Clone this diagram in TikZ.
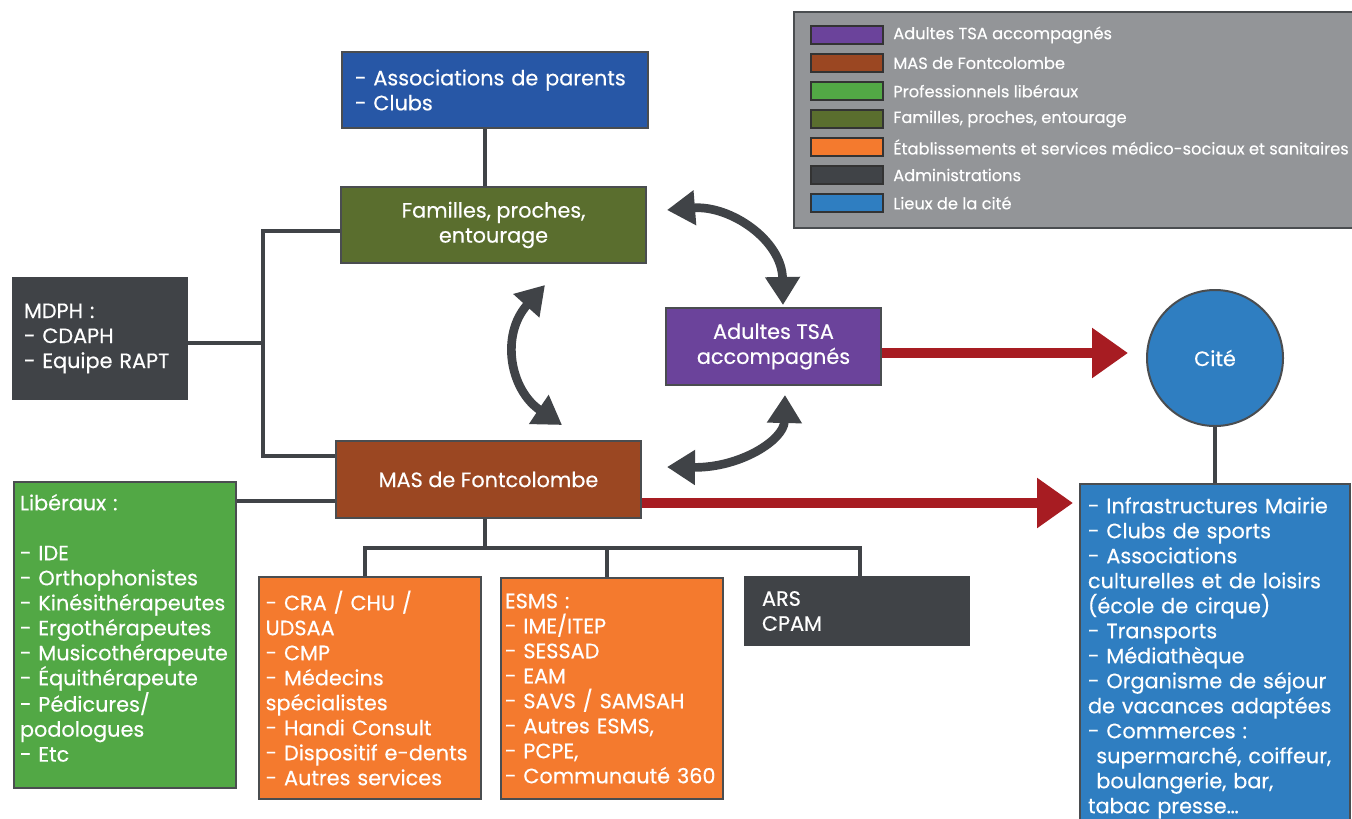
\documentclass[tikz,border=0pt]{standalone}
\usepackage{fontspec}
\setmainfont{Poppins}[FakeBold=0.4]
\usetikzlibrary{arrows.meta}
\definecolor{assocblue}{RGB}{39,87,166}
\definecolor{famolive}{RGB}{90,110,46}
\definecolor{admingray}{RGB}{64,67,71}
\definecolor{masbrown}{RGB}{155,71,34}
\definecolor{tsapurple}{RGB}{107,67,155}
\definecolor{libgreen}{RGB}{82,168,69}
\definecolor{esmsorange}{RGB}{244,122,46}
\definecolor{citeblue}{RGB}{47,126,193}
\definecolor{flowred}{RGB}{167,28,34}
\definecolor{legendgray}{RGB}{147,149,152}
\definecolor{edgegray}{RGB}{74,77,80}

\begin{document}
\begin{tikzpicture}[x=0.75pt,y=-0.75pt,
    box/.style={draw=edgegray,line width=1.5pt,text=white,inner ysep=0pt,
        font=\fontsize{15.6}{18.75}\selectfont},
    link/.style={draw=admingray,line width=3pt},
    flow/.style={draw=flowred,line width=7.5pt,-{Triangle[width=36pt,length=27pt]}},
    swap/.style={draw=admingray,line width=6.5pt,
        {Triangle[width=25pt,length=21pt]}-{Triangle[width=25pt,length=21pt]}},
    swatch/.style={draw=black!80,line width=1.5pt,minimum width=54pt,minimum height=13.5pt,inner sep=0pt},
    keytext/.style={anchor=west,text=white,inner sep=0pt,font=\fontsize{12.2}{14}\selectfont},
    ]
\useasboundingbox (0,0) rectangle (1352,818);

% legend
\node[draw=edgegray,line width=1.5pt,fill=legendgray,minimum width=429pt,minimum height=162pt] (legend) at (1080,120) {};
\node[swatch,fill=tsapurple] (keytsa) at (846.5,35) {};
\node[keytext] at (893,35) {Adultes TSA accompagnés};
\node[swatch,fill=masbrown] (keymas) at (846.5,63) {};
\node[keytext] at (893,63) {MAS de Fontcolombe};
\node[swatch,fill=libgreen] (keylib) at (846.5,91) {};
\node[keytext] at (893,91) {Professionnels libéraux};
\node[swatch,fill=famolive] (keyfam) at (846.5,119) {};
\node[keytext] at (893,119) {Familles, proches, entourage};
\node[swatch,fill=esmsorange] (keyesms) at (846.5,147) {};
\node[keytext] at (893,147) {Établissements et services médico-sociaux et sanitaires};
\node[swatch,fill=admingray] (keyadmin) at (846.5,175) {};
\node[keytext] at (893,175) {Administrations};
\node[swatch,fill=citeblue] (keycite) at (846.5,203) {};
\node[keytext] at (893,203) {Lieux de la cité};

% boxes
\node[box,fill=assocblue,minimum height=57pt,inner xsep=9.75pt,text width=210pt,align=left] (assoc) at (495,90) {- Associations de parents\\- Clubs};
\node[box,fill=famolive,minimum width=228.75pt,minimum height=57pt,align=center] (fam) at (493.5,225) {Familles, proches,\\entourage};
\node[box,fill=admingray,draw=admingray,minimum height=90.75pt,inner xsep=8.25pt,text width=114pt,align=left] (mdph) at (100,338.5) {MDPH :\\- CDAPH\\- Equipe RAPT};
\node[box,fill=masbrown,minimum width=228.75pt,minimum height=57.75pt,align=center] (mas) at (488.5,479.5) {MAS de Fontcolombe};
\node[box,fill=libgreen,minimum height=229.5pt,inner xsep=4.5pt,text width=157.5pt,align=left] (lib) at (125,635)
    {Libéraux :\\[18.75pt]- IDE\\- Orthophonistes\\- Kinésithérapeutes\\- Ergothérapeutes\\- Musicothérapeute\\- Équithérapeute\\- Pédicures/\\podologues\\- Etc\\[-8pt]\mbox{}};
\node[box,fill=tsapurple,minimum width=161.25pt,minimum height=57.75pt,align=center] (tsa) at (773.5,346.5) {Adultes TSA\\accompagnés};
\node[box,fill=citeblue,circle,minimum size=102pt,inner sep=0pt] (cite) at (1215,358) {Cité};
\node[box,fill=citeblue,anchor=north,inner xsep=6pt,inner ysep=10pt,text width=190.5pt,align=left] (lieux) at (1215,483)
    {- Infrastructures Mairie\\- Clubs de sports\\- Associations\\culturelles et de loisirs\\(école de cirque)\\- Transports\\- Médiathèque\\- Organisme de séjour\\de vacances adaptées\\- Commerces :\\\hspace*{0.4em}supermarché, coiffeur,\\\hspace*{0.4em}boulangerie, bar,\\tabac presse\dots\\\strut};
\node[box,fill=esmsorange,minimum height=166.5pt,inner xsep=5pt,text width=156.5pt,align=left] (cra) at (370,688)
    {- CRA / CHU /\\UDSAA\\- CMP\\- Médecins\\spécialistes\\- Handi Consult\\- Dispositif e-dents\\- Autres services};
\node[box,fill=esmsorange,minimum height=165.75pt,inner xsep=3pt,text width=160.5pt,align=left] (esms) at (612,688.5)
    {ESMS :\\- IME/ITEP\\- SESSAD\\- EAM\\- SAVS / SAMSAH\\- Autres ESMS,\\- PCPE,\\- Communauté 360};
\node[box,fill=admingray,draw=admingray,minimum height=51pt,inner xsep=12.75pt,text width=142.5pt,align=left] (ars) at (857,611) {ARS\\CPAM};

% connectors
\coordinate (trunk) at (263,343);
\coordinate (fork) at (485,548);
\draw[link] ([xshift=-7.5pt]assoc.south) -- ([xshift=-7.5pt]assoc.south |- fam.north);
\draw[link] ([yshift=-4.5pt]fam.west) -| (trunk) |- ([yshift=-12pt]mas.north west);
\draw[link] (mdph.east |- trunk) -- (trunk);
\draw[link] ([yshift=-15pt]lib.north east) -- ([yshift=-15pt]lib.north east -| mas.west);
\draw[link] (mas.south -| fork) -- (fork);
\draw[link] (fork) -| ([xshift=-3.75pt]cra.north);
\draw[link] (fork) -| ([xshift=-3.75pt]esms.north);
\draw[link] (fork) -| ([xshift=2.25pt]ars.north);
\draw[link] (cite.south) -- (lieux.north);

% red arrows
\coordinate (citein) at (1128,353);
\coordinate (lieuxin) at (1073,503);
\draw[flow] (tsa.east |- citein) -- (citein);
\draw[flow] (mas.east |- lieuxin) -- (lieuxin);

% double arrows
\coordinate (famtip) at (667,210);
\coordinate (tsatop) at (783,305);
\coordinate (famlow) at (545,285);
\coordinate (mastop) at (562,425);
\coordinate (masside) at (667,467);
\coordinate (tsalow) at (785,395);
\draw[swap] (famtip) .. controls (730,205) and (782,240) .. (tsatop);
\draw[swap] (famlow) .. controls (500,335) and (510,390) .. (mastop);
\draw[swap] (masside) .. controls (740,468) and (784,440) .. (tsalow);
\end{tikzpicture}
\end{document}
